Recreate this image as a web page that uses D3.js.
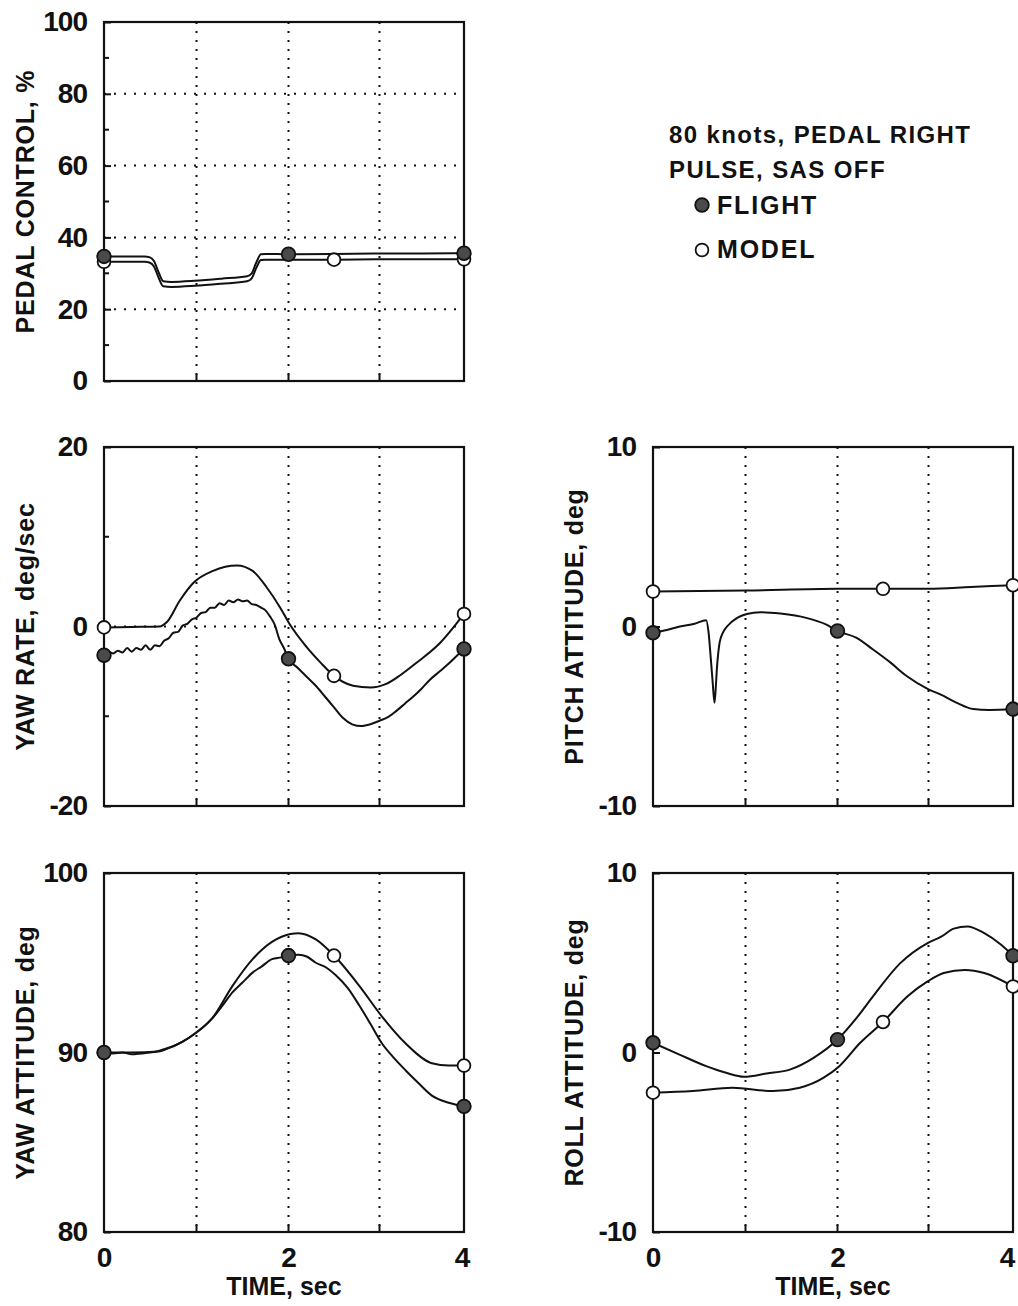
<!DOCTYPE html>
<html>
<head>
<meta charset="utf-8">
<script src="https://cdn.jsdelivr.net/npm/d3@7"></script>
<style>
body { margin: 0; background: #fff; }
svg { display: block; background: #fff; }
text { font-family: "Liberation Sans", Arial, sans-serif; font-weight: bold; fill: #111; }
</style>
</head>
<body>
<svg id="chart" width="1018" height="1306"></svg>
<script>
// time marks where the symbols sit on each trace
const flightMarkTimes = [0, 2, 4];
const modelMarkTimes = [0, 2.5, 4];
const timeTicks = [0, 2, 4];
const timeGrid = [1, 2, 3];

// pedal control, %
const pedalTime   = [0, 0.44, 0.49, 0.54, 0.59, 0.64, 0.73, 0.98, 1.27, 1.55, 1.6, 1.65, 1.7, 1.75, 2.0, 2.5, 3.0, 3.5, 4.0];
const pedalFlight = [34.7, 34.7, 34.5, 33.4, 30.3, 27.8, 27.6, 27.9, 28.5, 29.2, 30.0, 33.0, 35.3, 35.4, 35.3, 35.4, 35.5, 35.5, 35.6];
const pedalModel  = [33.2, 33.2, 33.0, 31.9, 28.8, 26.4, 26.2, 26.5, 27.1, 27.8, 28.6, 31.5, 33.7, 33.8, 33.8, 33.8, 33.9, 33.9, 33.9];

// yaw rate, deg/sec
const yawRateFlightTime = [0, 0.05, 0.1, 0.15, 0.2, 0.25, 0.3, 0.35, 0.4, 0.45, 0.5, 0.55, 0.6, 0.65, 0.7, 0.75,
  0.8, 0.85, 0.9, 0.95, 1.0, 1.05, 1.1, 1.15, 1.2, 1.25, 1.3, 1.35, 1.4, 1.45, 1.5, 1.55, 1.6, 1.65, 1.7, 1.75,
  1.8, 1.85, 1.9, 1.95, 2.0, 2.1, 2.2, 2.3, 2.4, 2.5, 2.6, 2.7, 2.8, 2.9, 3.0, 3.1, 3.2, 3.3, 3.4, 3.5, 3.6, 3.7, 3.8, 3.9, 4.0];
const yawRateFlight = [-3.2, -2.8, -3.0, -2.7, -2.9, -2.4, -2.8, -2.4, -2.6, -2.1, -2.6, -2.1, -2.2, -1.6, -1.3, -0.7,
  -0.6, 0.1, 0.3, 0.8, 1.0, 1.5, 1.6, 2.1, 2.1, 2.6, 2.4, 2.9, 2.7, 3.0, 2.8, 2.9, 2.5, 2.4, 2.1, 1.8,
  1.1, 0.2, -1.4, -2.4, -3.6, -4.6, -5.6, -6.6, -7.8, -9.0, -10.2, -10.9, -11.1, -10.9, -10.5, -10.1, -9.4, -8.6, -7.8, -6.9, -5.9, -5.1, -4.3, -3.4, -2.5];
const yawRateModelTime = [0, 0.29, 0.6, 0.68, 0.82, 0.97, 1.18, 1.44, 1.61, 1.76, 1.91, 2.01, 2.2, 2.35, 2.5, 2.71, 2.9, 3.08, 3.25, 3.43, 3.71, 4.0];
const yawRateModel     = [-0.1, -0.05, 0.0, 0.5, 2.9, 4.9, 6.2, 6.8, 6.2, 4.4, 2.1, 0.3, -2.3, -4.0, -5.5, -6.6, -6.8, -6.4, -5.4, -4.1, -1.9, 1.4];

// pitch attitude, deg
const pitchFlightTime = [0, 0.15, 0.29, 0.45, 0.575, 0.6, 0.625, 0.645, 0.665, 0.68, 0.69, 0.705, 0.72, 0.76, 0.8, 0.91,
  1.015, 1.16, 1.38, 1.66, 1.88, 2.0, 2.21, 2.39, 2.58, 2.76, 3.0, 3.14, 3.33, 3.53, 3.72, 4.0];
const pitchFlight = [-0.35, -0.2, 0.0, 0.15, 0.35, -0.3, -1.8, -3.1, -4.25, -3.3, -2.4, -1.5, -0.9, -0.3, 0.0, 0.48,
  0.7, 0.8, 0.72, 0.48, 0.1, -0.25, -0.63, -1.28, -2.0, -2.76, -3.5, -3.78, -4.24, -4.6, -4.65, -4.6];
const pitchModelTime = [0, 1.0, 2.0, 2.5, 3.0, 3.5, 4.0];
const pitchModel     = [1.95, 2.0, 2.1, 2.1, 2.1, 2.2, 2.3];

// yaw attitude, deg
const yawAttFlightTime = [0, 0.1, 0.2, 0.3, 0.4, 0.5, 0.6, 0.66, 0.75, 0.85, 0.995, 1.08, 1.17, 1.28, 1.39, 1.5, 1.61, 1.71,
  1.82, 1.92, 2.0, 2.11, 2.2, 2.3, 2.41, 2.52, 2.65, 2.78, 2.9, 3.03, 3.17, 3.31, 3.46, 3.62, 3.82, 4.0];
const yawAttFlight = [90, 89.95, 90.0, 89.9, 89.95, 90.0, 90.1, 90.2, 90.35, 90.6, 91.1, 91.45, 91.9, 92.6, 93.35, 93.9, 94.45, 94.8,
  95.2, 95.3, 95.4, 95.45, 95.35, 95.0, 94.75, 94.3, 93.6, 92.6, 91.6, 90.5, 89.7, 89.0, 88.3, 87.6, 87.2, 87.0];
const yawAttModelTime = [0, 0.29, 0.59, 0.68, 0.85, 0.995, 1.17, 1.39, 1.61, 1.82, 2.02, 2.11, 2.3, 2.5, 2.78, 3.03, 3.31, 3.62, 3.82, 4.0];
const yawAttModel     = [90, 90, 90.05, 90.2, 90.6, 91.1, 91.9, 93.7, 95.2, 96.16, 96.6, 96.65, 96.3, 95.4, 93.7, 92.0, 90.5, 89.4, 89.27, 89.27];

// roll attitude, deg
const rollFlightTime = [0, 0.28, 0.575, 0.79, 0.985, 1.23, 1.49, 1.74, 2.0, 2.21, 2.39, 2.69, 2.99, 3.15, 3.3, 3.46, 3.66, 3.86, 4.0];
const rollFlight     = [0.54, -0.1, -0.76, -1.13, -1.35, -1.17, -0.94, -0.3, 0.72, 1.93, 3.13, 4.98, 6.1, 6.45, 6.9, 7.02, 6.65, 6.0, 5.39];
const rollModelTime = [0, 0.43, 0.86, 1.3, 1.59, 1.85, 2.02, 2.25, 2.5, 2.77, 2.99, 3.18, 3.43, 3.66, 4.0];
const rollModel     = [-2.24, -2.15, -1.96, -2.15, -1.96, -1.4, -0.76, 0.54, 1.7, 3.13, 3.96, 4.43, 4.6, 4.43, 3.68];

const legendTitle = ['80 knots, PEDAL RIGHT', 'PULSE, SAS OFF'];
const legendNames = ['FLIGHT', 'MODEL'];

// layout
const colX = [104, 653];
const rowY = [22, 447, 873];
const W = 360;
const H = 359;
// the scanned time axis is slightly uneven
const timeOffsets = [0, 92.5, 184.5, 275.5, 360];

const panels = [
  { col: 0, row: 0, title: 'PEDAL CONTROL, %', domain: [0, 100], ticks: [0, 20, 40, 60, 80, 100], minor: [10, 30, 50, 70, 90], grid: [20, 40, 60, 80],
    flight: [pedalTime, pedalFlight], model: [pedalTime, pedalModel], timeAxis: false },
  { col: 0, row: 1, title: 'YAW RATE, deg/sec', domain: [-20, 20], ticks: [-20, 0, 20], minor: [-10, 10], grid: [0],
    flight: [yawRateFlightTime, yawRateFlight], model: [yawRateModelTime, yawRateModel], timeAxis: false },
  { col: 1, row: 1, title: 'PITCH ATTITUDE, deg', domain: [-10, 10], ticks: [-10, 0, 10], minor: [], grid: [],
    flight: [pitchFlightTime, pitchFlight], model: [pitchModelTime, pitchModel], timeAxis: false },
  { col: 0, row: 2, title: 'YAW ATTITUDE, deg', domain: [80, 100], ticks: [80, 90, 100], minor: [], grid: [],
    flight: [yawAttFlightTime, yawAttFlight], model: [yawAttModelTime, yawAttModel], timeAxis: true },
  { col: 1, row: 2, title: 'ROLL ATTITUDE, deg', domain: [-10, 10], ticks: [-10, 0, 10], minor: [], grid: [],
    flight: [rollFlightTime, rollFlight], model: [rollModelTime, rollModel], timeAxis: true }
];

const svg = d3.select('#chart');
const ink = '#111';

function valueAt(ts, vs, t) {
  const i = d3.bisectLeft(ts, t);
  if (ts[i] === t) return vs[i];
  const t0 = ts[i - 1], t1 = ts[i];
  return vs[i - 1] + (vs[i] - vs[i - 1]) * (t - t0) / (t1 - t0);
}

function drawMarker(g, cx, cy, filled) {
  g.append('circle')
    .attr('cx', cx)
    .attr('cy', cy)
    .attr('r', filled ? 6.8 : 6.4)
    .attr('fill', filled ? '#4a4a4a' : '#fff')
    .attr('stroke', ink)
    .attr('stroke-width', 1.8);
}

panels.forEach(p => {
  const x0 = colX[p.col];
  const y0 = rowY[p.row];
  const x = d3.scaleLinear().domain([0, 1, 2, 3, 4]).range(timeOffsets.map(o => x0 + o));
  const y = d3.scaleLinear().domain(p.domain).range([y0 + H, y0]);
  const g = svg.append('g');

  // dotted grid
  g.selectAll('.vgrid')
    .data(timeGrid)
    .enter().append('line')
    .attr('x1', d => x(d)).attr('x2', d => x(d))
    .attr('y1', y0).attr('y2', y0 + H)
    .attr('stroke', ink).attr('stroke-width', 2).attr('stroke-dasharray', '2,7');
  g.selectAll('.hgrid')
    .data(p.grid)
    .enter().append('line')
    .attr('x1', x0).attr('x2', x0 + W)
    .attr('y1', d => y(d)).attr('y2', d => y(d))
    .attr('stroke', ink).attr('stroke-width', 2).attr('stroke-dasharray', '2,8');

  // traces
  const line = d3.line().curve(d3.curveMonotoneX);
  [p.model, p.flight].forEach(s => {
    const pts = s[0].map((t, i) => [x(t), y(s[1][i])]);
    g.append('path')
      .attr('d', line(pts))
      .attr('fill', 'none')
      .attr('stroke', ink)
      .attr('stroke-width', 2);
  });

  // frame
  g.append('rect')
    .attr('x', x0).attr('y', y0)
    .attr('width', W).attr('height', H)
    .attr('fill', 'none')
    .attr('stroke', ink).attr('stroke-width', 2.2);

  // left axis, ticks pointing in
  const yAxis = g.append('g')
    .attr('transform', `translate(${x0},0)`)
    .call(d3.axisLeft(y).tickValues(p.ticks).tickSize(-7).tickPadding(17).tickFormat(d => String(d)));
  yAxis.select('.domain').remove();
  yAxis.selectAll('line').attr('stroke', ink).attr('stroke-width', 2);
  yAxis.selectAll('text')
    .attr('fill', ink)
    .style('font-size', '28px')
    .style('letter-spacing', '-1px');

  g.selectAll('.minor')
    .data(p.minor)
    .enter().append('line')
    .attr('x1', x0).attr('x2', x0 + 5)
    .attr('y1', d => y(d)).attr('y2', d => y(d))
    .attr('stroke', ink).attr('stroke-width', 2);

  // bottom ticks
  g.selectAll('.xtick')
    .data(timeGrid)
    .enter().append('line')
    .attr('x1', d => x(d)).attr('x2', d => x(d))
    .attr('y1', y0 + H).attr('y2', y0 + H - 7)
    .attr('stroke', ink).attr('stroke-width', 2);

  if (p.timeAxis) {
    const xAxis = g.append('g')
      .attr('transform', `translate(0,${y0 + H})`)
      .call(d3.axisBottom(x).tickValues(timeTicks).tickSize(0).tickPadding(15).tickFormat(d => String(d)));
    xAxis.select('.domain').remove();
    xAxis.selectAll('text')
      .attr('fill', ink)
      .attr('dx', d => (d === 4 ? (p.col === 1 ? -6 : -2) : 0))
      .style('font-size', '28px');
    g.append('text')
      .attr('x', x0 + W / 2)
      .attr('y', y0 + H + 63)
      .attr('text-anchor', 'middle')
      .style('font-size', '25px')
      .text('TIME, sec');
  }

  // axis title
  g.append('text')
    .attr('transform', `translate(${x0 - 70},${y0 + H / 2}) rotate(-90)`)
    .attr('text-anchor', 'middle')
    .style('font-size', '25px')
    .style('letter-spacing', '0.8px')
    .text(p.title);

  // symbols
  modelMarkTimes.forEach(t => drawMarker(g, x(t), y(valueAt(p.model[0], p.model[1], t)), false));
  flightMarkTimes.forEach(t => drawMarker(g, x(t), y(valueAt(p.flight[0], p.flight[1], t)), true));
});

// legend
const legend = svg.append('g');
legendTitle.forEach((s, i) => {
  legend.append('text')
    .attr('x', 669)
    .attr('y', 143 + i * 35)
    .style('font-size', '24px')
    .style('letter-spacing', '1.4px')
    .text(s);
});
legendNames.forEach((s, i) => {
  drawMarker(legend, 702, 205 + i * 45, i === 0);
  legend.append('text')
    .attr('x', 717)
    .attr('y', 214 + i * 44)
    .style('font-size', '25px')
    .style('letter-spacing', '1.8px')
    .text(s);
});
</script>
</body>
</html>
